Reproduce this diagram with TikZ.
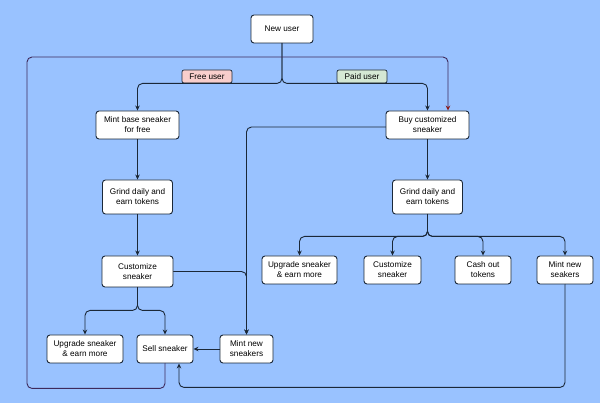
\documentclass[tikz,border=0pt]{standalone}
\usepackage{fontspec}
\setmainfont{Liberation Sans}
\usetikzlibrary{arrows.meta}
\definecolor{skyback}{HTML}{99C2FF}
\definecolor{ink}{HTML}{1B2838}
\definecolor{softred}{HTML}{F8CECC}
\definecolor{softgreen}{HTML}{D5E8D4}
\definecolor{loopviolet}{HTML}{3E2A5C}
\definecolor{tipred}{HTML}{8B1A1A}
\tikzset{
    every picture/.style={line cap=round,line join=round},
    stepbox/.style={draw=ink,fill=white,line width=0.9pt,rounded corners=3pt,
      inner sep=1pt,align=center,font=\fontsize{8.2}{10}\selectfont},
    tagbox/.style={draw=ink,line width=0.7pt,rounded corners=2pt,inner sep=0pt,
      minimum width=50pt,minimum height=13pt,font=\fontsize{8.2}{10}\selectfont},
    flowarrow/.style={-{Stealth[length=5pt,width=4.5pt]},draw=ink,
      line width=0.9pt,rounded corners=5pt},
    looparrow/.style={-{Stealth[length=5pt,width=4.5pt,color=tipred]},draw=loopviolet,
      line width=0.9pt,rounded corners=5pt}
}
\begin{document}
\begin{tikzpicture}[x=1pt,y=-1pt]
  \fill[skyback] (0,0) rectangle (600,403);
  \useasboundingbox (0,0) rectangle (600,403);
  \node[stepbox,minimum width=62pt,minimum height=28pt] (newuser) at (282,29) {New user};
  \node[stepbox,minimum width=83pt,minimum height=28pt] (mintbase) at (137.5,125) {Mint base sneaker\\for free};
  \node[stepbox,minimum width=83pt,minimum height=28pt] (buy) at (427.5,125) {Buy customized\\sneaker};
  \node[stepbox,minimum width=70pt,minimum height=34pt] (grindL) at (137.5,197) {Grind daily and\\earn tokens};
  \node[stepbox,minimum width=70pt,minimum height=34pt] (grindR) at (427.5,197) {Grind daily and\\earn tokens};
  \node[stepbox,minimum width=71pt,minimum height=31pt] (custL) at (137.5,271.5) {Customize\\sneaker};
  \node[stepbox,minimum width=76pt,minimum height=28pt] (upL) at (85,349) {Upgrade sneaker\\\& earn more};
  \node[stepbox,minimum width=56pt,minimum height=28pt] (sell) at (165,349) {Sell sneaker};
  \node[stepbox,minimum width=53pt,minimum height=28pt] (mintL) at (246.5,349) {Mint new\\sneakers};
  \node[stepbox,minimum width=75pt,minimum height=28pt] (upR) at (299.5,270) {Upgrade sneaker\\\& earn more};
  \node[stepbox,minimum width=57pt,minimum height=28pt] (custR) at (392.5,270) {Customize\\sneaker};
  \node[stepbox,minimum width=56pt,minimum height=28pt] (cash) at (483,270) {Cash out\\tokens};
  \node[stepbox,minimum width=56pt,minimum height=28pt] (mintR) at (565,270) {Mint new\\seakers};
  \node[tagbox,fill=softred] (freetag) at (207,76.5) {Free user};
  \node[tagbox,fill=softgreen] (paidtag) at (362,76.5) {Paid user};
  \coordinate (loopcorner) at (27,57);
  \coordinate (buyin) at ([xshift=20.5pt]buy.north);
  \coordinate (sellin) at ([xshift=14pt]sell.south);
  \foreach \n in {mintbase,buy}
    \draw[flowarrow] (newuser.south) -- ++(0,40) -| (\n.north);
  \draw[flowarrow] (mintbase) -- (grindL);
  \draw[flowarrow] (grindL) -- (custL);
  \foreach \n in {upL,sell}
    \draw[flowarrow] (custL.south) -- ++(0,23) -| (\n.north);
  \draw[flowarrow] ([yshift=-2pt]buy.west) -| (mintL.north);
  \draw[flowarrow] (custL.east) -| (mintL.north);
  \draw[flowarrow] (mintL) -- (sell);
  \draw[flowarrow] (buy) -- (grindR);
  \foreach \n in {upR,custR,cash,mintR}
    \draw[flowarrow] (grindR.south) -- ++(0,22) -| (\n.north);
  \draw[flowarrow] (mintR.south) -- ++(0,103) -| (sellin);
  \draw[looparrow] (sell.south) -- ++(0,25) -| (loopcorner) -| (buyin);
\end{tikzpicture}
\end{document}
